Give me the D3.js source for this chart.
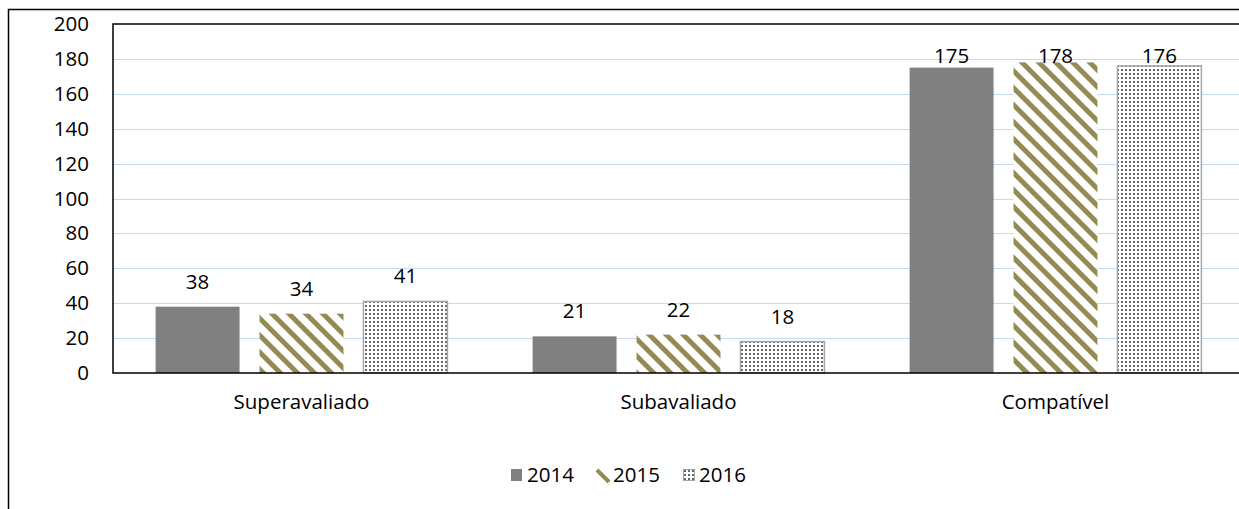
<!DOCTYPE html>
<html>
<head>
<meta charset="utf-8">
<script src="https://cdn.jsdelivr.net/npm/d3@7"></script>
<style>
  body { margin: 0; background: #fff; }
  text { font-family: "Open Sans", sans-serif; fill: #000; }
</style>
</head>
<body>
<div id="chart"></div>
<script>
// chart data
const categories = ["Superavaliado", "Subavaliado", "Compatível"];
const years = ["2014", "2015", "2016"];
const values2014 = [38, 21, 175];
const values2015 = [34, 22, 178];
const values2016 = [41, 18, 176];
const yTicks = [0, 20, 40, 60, 80, 100, 120, 140, 160, 180, 200];

const width = 1239;
const height = 509;
const margin = { top: 24, left: 113, bottom: 373, right: 1244 };
const fontSize = "20.5px";

const svg = d3.select("#chart")
    .append("svg")
    .attr("width", width)
    .attr("height", height);

// patterns for 2015 / 2016
const defs = svg.append("defs");

const stripes = defs.append("pattern")
    .attr("id", "stripes")
    .attr("patternUnits", "userSpaceOnUse")
    .attr("width", 12)
    .attr("height", 12)
    .attr("patternTransform", "rotate(45)");
stripes.append("rect").attr("width", 12).attr("height", 12).attr("fill", "#fff");
stripes.append("rect").attr("width", 12).attr("height", 5).attr("y", 3).attr("fill", "#948a54");

const dots = defs.append("pattern")
    .attr("id", "dots")
    .attr("patternUnits", "userSpaceOnUse")
    .attr("width", 4)
    .attr("height", 4);
dots.append("rect").attr("width", 4).attr("height", 4).attr("fill", "#fff");
dots.append("rect").attr("x", 1).attr("y", 1).attr("width", 2).attr("height", 2).attr("fill", "#777");
dots.append("rect").attr("x", 1.5).attr("y", 1.5).attr("width", 1).attr("height", 1).attr("fill", "#333");

const fills = { "2014": "#808080", "2015": "url(#stripes)", "2016": "url(#dots)" };

const x0 = d3.scaleBand()
    .domain(categories)
    .range([margin.left, margin.right]);

const x1 = d3.scaleBand()
    .domain(years)
    .range([0, x0.bandwidth()])
    .paddingInner(20 / 104)
    .paddingOuter(0.41);

const y = d3.scaleLinear()
    .domain([0, 200])
    .range([margin.bottom, margin.top]);

// outer frame
svg.append("path")
    .attr("d", `M8.5,${height} V9.5 H${width}`)
    .attr("fill", "none")
    .attr("stroke", "#000")
    .attr("stroke-width", 1.5);

// gridlines
svg.append("g")
    .selectAll("line")
    .data(yTicks.filter(t => t > 0 && t < 200))
    .enter().append("line")
    .attr("x1", margin.left)
    .attr("x2", width)
    .attr("y1", d => Math.round(y(d)) + 0.5)
    .attr("y2", d => Math.round(y(d)) + 0.5)
    .attr("stroke", "#c6d9f1")
    .attr("stroke-width", 1.2);

// y axis labels
const yAxis = d3.axisLeft(y).tickValues(yTicks).tickSize(0).tickPadding(24);
svg.append("g")
    .attr("transform", `translate(${margin.left},0)`)
    .call(yAxis)
    .call(g => g.select(".domain").remove())
    .selectAll("text")
    .style("font-family", "'Open Sans', sans-serif")
    .style("font-size", fontSize)
    .attr("fill", "#000");

const series = [
    { year: "2014", values: values2014 },
    { year: "2015", values: values2015 },
    { year: "2016", values: values2016 }
];

const rows = [];
series.forEach(s => {
    s.values.forEach((v, i) => rows.push({ cat: categories[i], year: s.year, value: v }));
});

// bars
svg.append("g")
    .selectAll("rect")
    .data(rows)
    .enter().append("rect")
    .attr("x", d => x0(d.cat) + x1(d.year))
    .attr("y", d => y(d.value))
    .attr("width", x1.bandwidth())
    .attr("height", d => y(0) - y(d.value))
    .attr("fill", d => fills[d.year])
    .attr("stroke", d => d.year === "2016" ? "#a6a6a6" : "none")
    .attr("stroke-width", 1.5);

// value labels
svg.append("g")
    .selectAll("text")
    .data(rows)
    .enter().append("text")
    .attr("x", d => x0(d.cat) + x1(d.year) + x1.bandwidth() / 2)
    .attr("y", d => Math.max(y(d.value) - 18, y(200) + 39))
    .attr("text-anchor", "middle")
    .style("font-size", fontSize)
    .text(d => d.value);

// plot frame
svg.append("path")
    .attr("d", `M${width},${margin.top} H${margin.left} V${margin.bottom} H${width}`)
    .attr("fill", "none")
    .attr("stroke", "#000")
    .attr("stroke-width", 1.5);

// category labels
svg.append("g")
    .selectAll("text")
    .data(categories)
    .enter().append("text")
    .attr("x", d => x0(d) + x0.bandwidth() / 2)
    .attr("y", 409)
    .attr("text-anchor", "middle")
    .style("font-size", fontSize)
    .text(d => d);

// legend
const legend = svg.append("g")
    .selectAll("g")
    .data(years)
    .enter().append("g")
    .attr("transform", (d, i) => `translate(${511 + i * 86},469)`);

legend.filter(d => d === "2014").append("rect")
    .attr("width", 11).attr("height", 12)
    .attr("fill", fills["2014"]);

legend.filter(d => d === "2015").append("line")
    .attr("x1", 0).attr("y1", 1).attr("x2", 12).attr("y2", 13)
    .attr("stroke", "#948a54")
    .attr("stroke-width", 4);

legend.filter(d => d === "2016").append("rect")
    .attr("x", 0.5).attr("y", 0.5)
    .attr("width", 11).attr("height", 11)
    .attr("fill", "url(#dots)")
    .attr("stroke", "#a6a6a6");

legend.append("text")
    .attr("x", 16)
    .attr("y", 13)
    .style("font-size", fontSize)
    .text(d => d);
</script>
</body>
</html>
